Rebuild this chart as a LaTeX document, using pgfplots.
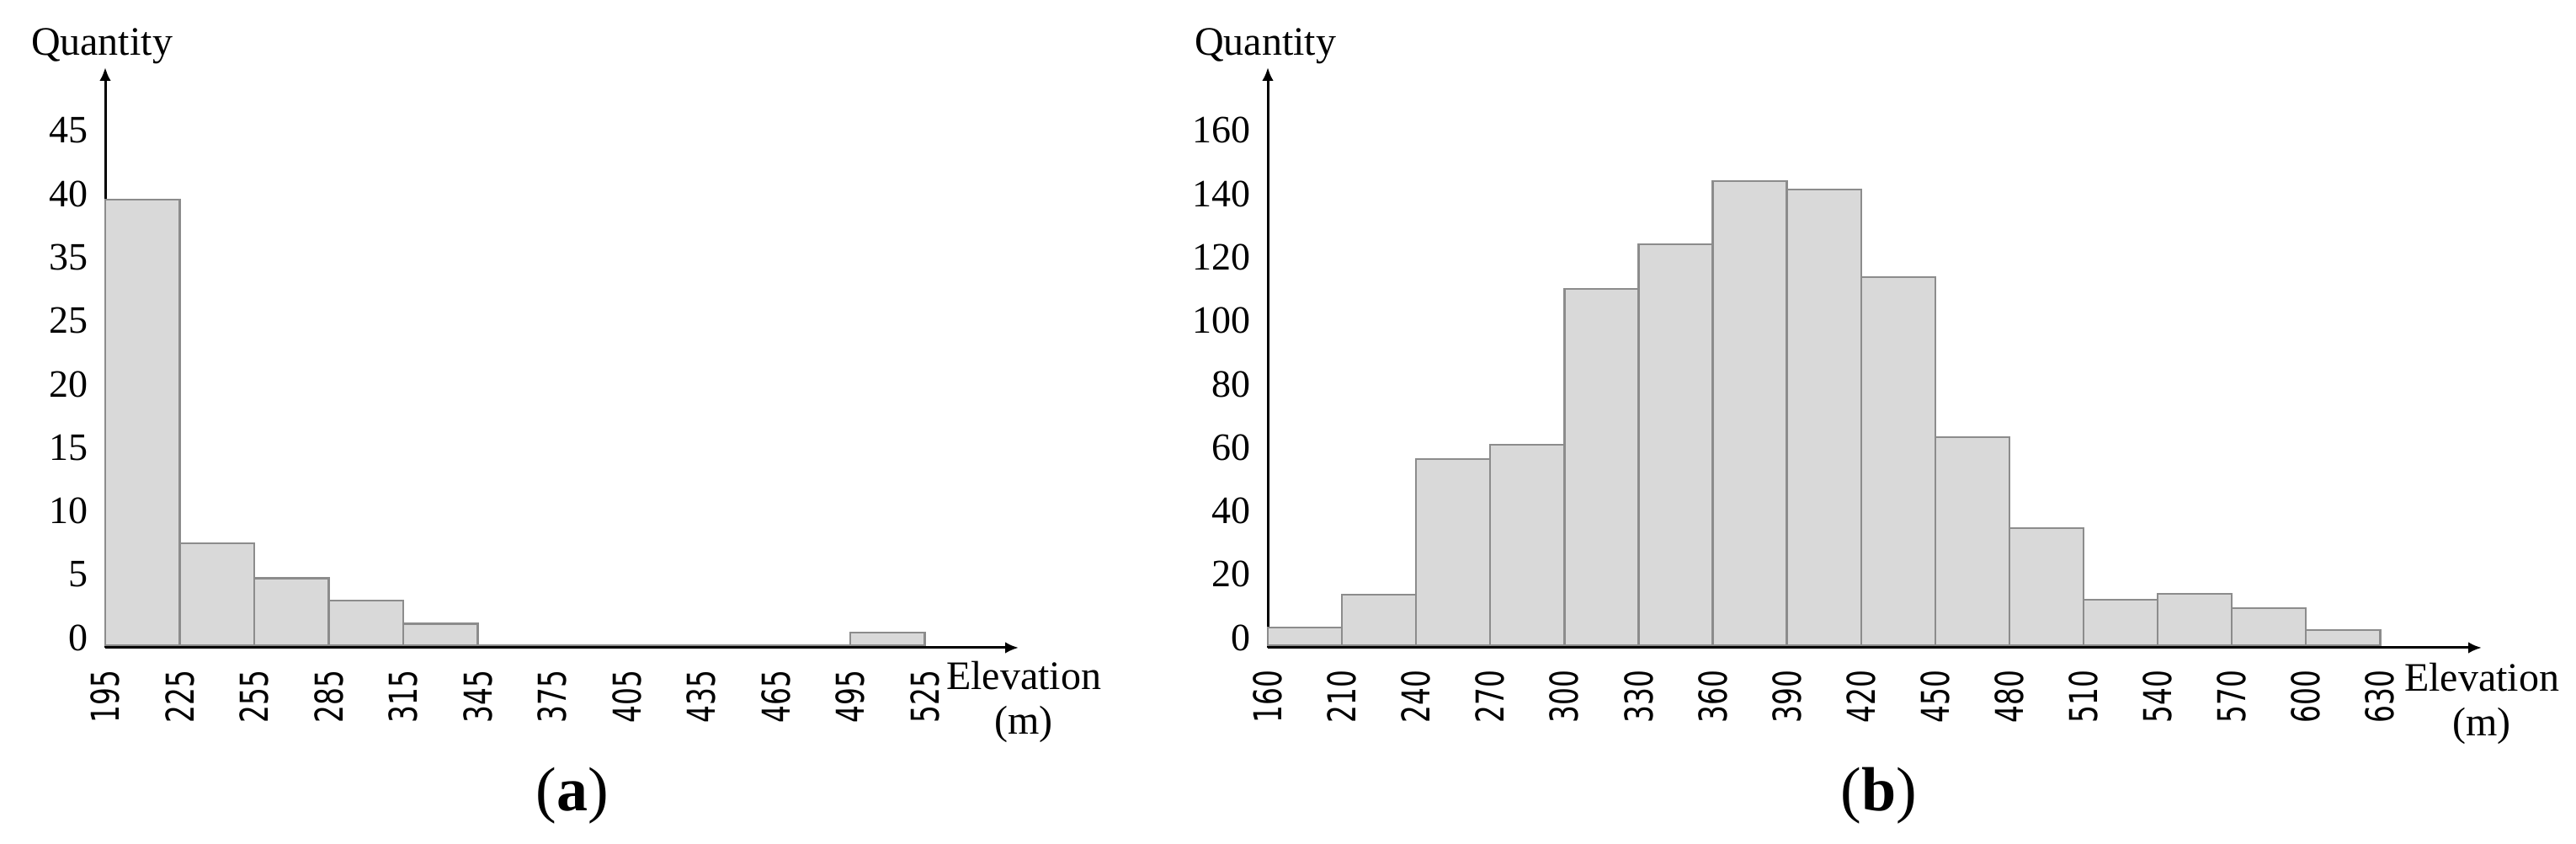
\documentclass[border=0pt]{standalone}
\usepackage{fontspec}
\setmainfont{Liberation Serif}
\newfontfamily\tickfont{DejaVu Sans}
\usepackage{graphicx}
\usepackage{pgfplots}
\pgfplotsset{compat=1.18}
\usetikzlibrary{arrows.meta}
\definecolor{barfill}{RGB}{217,217,217}
\definecolor{baredge}{RGB}{140,140,140}
\newcommand\xl[1]{\scalebox{0.72}[1]{\tickfont\fontsize{11.4}{12}\selectfont #1}}
\pgfplotsset{
  hist/.style={
    scale only axis,
    anchor=south west,
    height=172.25pt,
    axis x line=bottom,
    axis y line=left,
    axis line style={line width=0.75pt, -{Latex[length=4pt,width=3.4pt]}},
    major tick length=0pt,
    tick style={draw=none},
    xticklabel style={rotate=90, anchor=east, inner sep=0pt},
    xticklabel shift=6.5pt,
    yticklabel style={anchor=east, inner sep=0pt, yshift=2.25pt,
      font=\fontsize{11.5}{13}\selectfont},
    yticklabel shift=5pt,
    clip=false,
  },
  bars/.style={ybar interval, fill=barfill, draw=baredge, line width=0.6pt},
}
\begin{document}
\begin{tikzpicture}
% (a)
\begin{axis}[hist,
  at={(31.25pt,58.25pt)},
  width=271.25pt,
  xmin=0, xmax=12.26, ymin=-0.2, ymax=45.58,
  xtick={0,1,...,11},
  xticklabels={\xl{195},\xl{225},\xl{255},\xl{285},\xl{315},\xl{345},\xl{375},\xl{405},\xl{435},\xl{465},\xl{495},\xl{525}},
  ytick={0,5,10,15,20,25,30,35,40},
  yticklabels={0,5,10,15,20,25,35,40,45},
]
\addplot[bars] coordinates {
  (0,35.15) (1,8.04) (2,5.27) (3,3.52) (4,1.68) (5,0) (6,0) (7,0) (8,0) (9,0) (10,1.0) (11,0)
};
\end{axis}
% (b)
\begin{axis}[hist,
  at={(376.5pt,58.25pt)},
  width=360.5pt,
  xmin=0, xmax=16.37, ymin=-0.8, ymax=182.3,
  xtick={0,1,...,15},
  xticklabels={\xl{160},\xl{210},\xl{240},\xl{270},\xl{300},\xl{330},\xl{360},\xl{390},\xl{420},\xl{450},\xl{480},\xl{510},\xl{540},\xl{570},\xl{600},\xl{630}},
  ytick={0,20,40,60,80,100,120,140,160},
  yticklabels={0,20,40,60,80,100,120,140,160},
]
\addplot[bars] coordinates {
  (0,5.6) (1,15.9) (2,58.7) (3,63.3) (4,112.4) (5,126.5) (6,146.4) (7,143.8)
  (8,116.1) (9,65.6) (10,36.9) (11,14.4) (12,16.2) (13,11.7) (14,4.8) (15,0)
};
\end{axis}
% texts
\begin{scope}[every node/.style={inner sep=0pt, font=\fontsize{12}{13.4}\selectfont}]
\node at (30.25pt,236.75pt) {Quantity};
\node[align=center] at (304pt,42.15pt) {Elevation\\(m)};
\node at (375.75pt,236.75pt) {Quantity};
\node[align=center] at (737pt,41.65pt) {Elevation\\(m)};
\end{scope}
\node[inner sep=0pt, font=\fontsize{18.5}{20}\selectfont] at (170pt,14.25pt) {(\textbf{a})};
\node[inner sep=0pt, font=\fontsize{18.5}{20}\selectfont] at (558pt,14.25pt) {(\textbf{b})};
\pgfresetboundingbox
\path (0,0) rectangle (765pt,250.5pt);
\end{tikzpicture}
\end{document}
